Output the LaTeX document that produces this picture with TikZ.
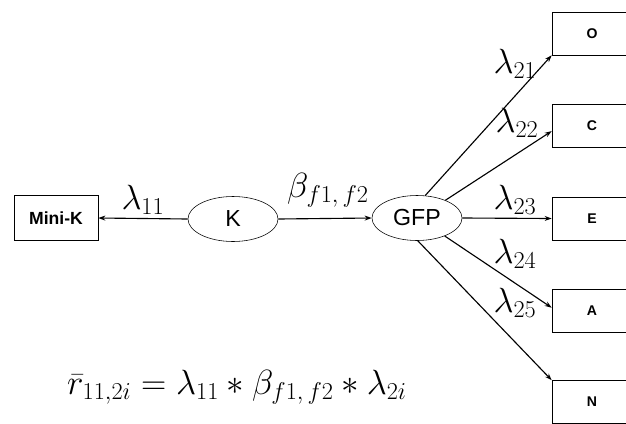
\documentclass[tikz,border=0pt]{standalone}
\usepackage{amsmath, amssymb}
\usepackage{fontspec}
\setmainfont{Liberation Sans}
\usepackage{tikz}
\usetikzlibrary{calc, positioning, arrows.meta, shapes.geometric}

\begin{document}
\begin{tikzpicture}[
  x=0.025cm, y=-0.025cm,
  >={Stealth[length=5pt, width=3.5pt]},
  obsbox/.style={draw, thin, minimum width=2.1cm, minimum height=1.125cm,
                 font=\fontsize{12.5}{15}\selectfont\bfseries, inner sep=2pt},
  itembox/.style={draw, thin, minimum width=2cm, minimum height=1.075cm,
                  font=\normalsize\bfseries, inner sep=2pt},
  latent/.style={draw, thin, ellipse, minimum width=2.25cm,
                 minimum height=1.125cm, font=\fontsize{16.5}{20}\selectfont,
                 inner sep=1pt},
  coef/.style={font=\fontsize{24}{29}\selectfont, inner sep=1pt},
  path/.style={->, thick}
]
\clip (0,0) rectangle (626,423);

% ---------- Facteurs ----------
\node[obsbox] (minik) at (56,218)  {Mini-K};
\node[latent] (k)     at (233,219) {K};
\node[latent] (gfp)   at (417,218) {GFP};

% ---------- Indicateurs (coupés au bord droit) ----------
\node[itembox] (o) at (592,33.5)  {O};
\node[itembox] (c) at (592,125.5) {C};
\node[itembox] (e) at (592,218.5) {E};
\node[itembox] (a) at (592,310.5) {A};
\node[itembox] (n) at (592,402)   {N};

% ---------- Chemins ----------
\draw[path] (k.west) -- (minik.east);
\draw[path] (k.east) -- (gfp.west);
\draw[path] (gfp.70) -- (o.south west);
\draw[path] (gfp.32) -- ([yshift=-4pt]c.west);
\draw[path] (gfp.east) -- (e.west);
\draw[path] (gfp.-33) -- ([yshift=2pt]a.west);
\draw[path] (gfp.-88) -- (n.north west);

% ---------- Coefficients ----------
\node[coef] (l11) at (143,200) {$\lambda_{11}$};
\node[coef] (bff) at (328,190) {$\beta_{f1,\,f2}$};
\node[coef] (l21) at (515,64)  {$\lambda_{21}$};
\node[coef] (l22) at (517,123) {$\lambda_{22}$};
\node[coef] (l23) at (515,200) {$\lambda_{23}$};
\node[coef] (l24) at (515,254) {$\lambda_{24}$};
\node[coef] (l25) at (515,303) {$\lambda_{25}$};

% ---------- Formule ----------
\node[coef, font=\fontsize{27}{32}\selectfont] (eq) at (237,387)
  {$\bar{r}_{11,2i} = \lambda_{11} \ast \beta_{f1,\,f2} * \lambda_{2i}$};

\end{tikzpicture}
\end{document}
